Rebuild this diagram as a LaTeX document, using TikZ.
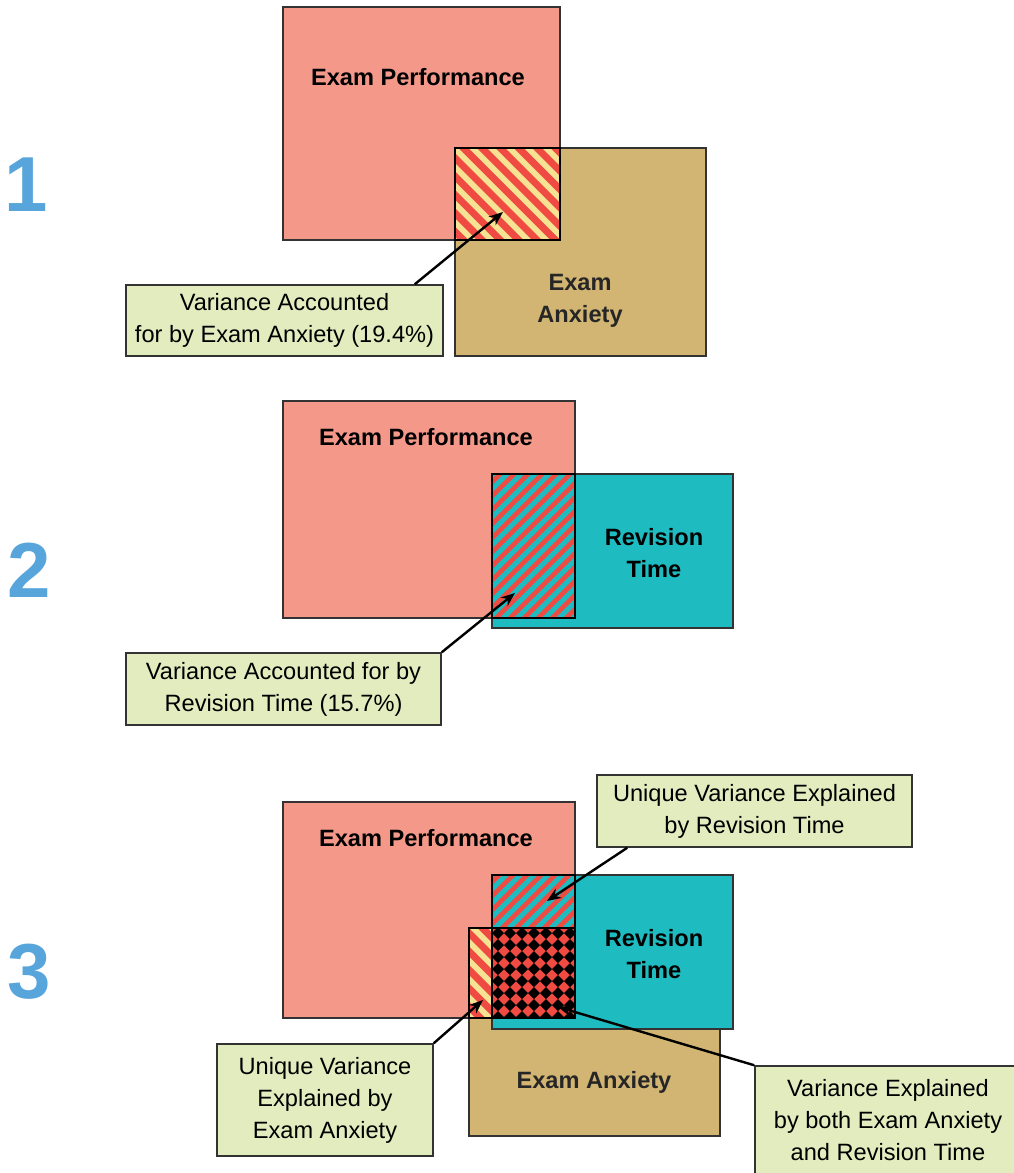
\documentclass[tikz,border=0pt]{standalone}
\usepackage{fontspec}
\setmainfont{Liberation Sans}
\usetikzlibrary{arrows.meta,calc}

\definecolor{perfcol}{HTML}{F4998A}
\definecolor{anxcol}{HTML}{D2B572}
\definecolor{revcol}{HTML}{1EBCC0}
\definecolor{notecol}{HTML}{E3ECBF}
\definecolor{stripered}{HTML}{EF4B43}
\definecolor{stripeyel}{HTML}{F5E292}
\definecolor{numblue}{HTML}{58A5DC}

\begin{document}
\begin{tikzpicture}[x=0.5pt, y=-0.5pt,
    area/.style={draw=black!80, line width=0.7pt},
    arealabel/.style={font=\fontsize{11.8}{16}\selectfont\bfseries, align=center},
    note/.style={draw=black!80, fill=notecol, line width=0.75pt, align=center,
        inner sep=0pt, font=\fontsize{11.8}{16}\selectfont},
    callout/.style={-{Stealth[length=7pt, width=5.5pt]}, line width=1.2pt},
    numlabel/.style={font=\fontsize{39}{39}\selectfont\bfseries, text=numblue, anchor=base},
    overlap/.style={draw=black, line width=1pt}]
    \useasboundingbox (0,0) rectangle (1013,1173);

    % panel numbers
    \node[numlabel] (num1) at (26,211) {1};
    \node[numlabel] (num2) at (29,597) {2};
    \node[numlabel] (num3) at (29,998) {3};

    % ---- panel 1: exam anxiety alone
    \filldraw[area, fill=perfcol] (283,7) rectangle (560,240);
    \filldraw[area, fill=anxcol] (455,148) rectangle (706,356);
    \begin{scope}
        \clip (455,148) rectangle (560,240);
        \fill[stripeyel] (455,148) rectangle (560,240);
        \foreach \d in {205,223.4,...,420}
            \draw[stripered, line width=3.5pt] (\d+140,140) -- (\d+248,248);
    \end{scope}
    \draw[overlap] (455,148) rectangle (560,240);
    \node[arealabel] (perf1) at (418,77) {Exam Performance};
    \node[arealabel, text=black!85] (anx1) at (580,301) {Exam\\Anxiety};

    \node[note, minimum width=158.5pt, minimum height=35.5pt] (note1) at (284.5,320.5)
        {Variance Accounted\\for by Exam Anxiety (19.4\%)};
    \coordinate (tip1) at (503,212);
    \draw[callout] ($(note1.north east)+(-29,0)$) -- (tip1);

    % ---- panel 2: revision time alone
    \filldraw[area, fill=perfcol] (283,401) rectangle (575,618);
    \filldraw[area, fill=revcol] (492,474) rectangle (733,628);
    \begin{scope}
        \clip (492,474) rectangle (575,618);
        \fill[revcol] (492,474) rectangle (575,618);
        \foreach \s in {960,974,...,1200}
            \draw[stripered, line width=2.3pt] (\s-466,466) -- (\s-626,626);
    \end{scope}
    \draw[overlap] (492,474) rectangle (575,618);
    \node[arealabel] (perf2) at (426,437) {Exam Performance};
    \node[arealabel] (rev2) at (654,553) {Revision\\Time};

    \node[note, minimum width=157.5pt, minimum height=36pt] (note2) at (283.5,689)
        {Variance Accounted for by\\Revision Time (15.7\%)};
    \coordinate (tip2) at (515,593);
    \draw[callout] (note2.north east) -- (tip2);

    % ---- panel 3: both predictors
    \filldraw[area, fill=anxcol] (469,927) rectangle (720,1136);
    \filldraw[area, fill=perfcol] (283,802) rectangle (575,1018);
    \filldraw[area, fill=revcol] (492,875) rectangle (733,1029);
    \begin{scope}
        \clip (492,875) rectangle (575,928);
        \fill[revcol] (492,875) rectangle (575,928);
        \foreach \s in {1360,1374,...,1510}
            \draw[stripered, line width=2.3pt] (\s-867,867) -- (\s-936,936);
    \end{scope}
    \begin{scope}
        \clip (469,928) rectangle (492,1018);
        \fill[stripeyel] (469,928) rectangle (492,1018);
        \foreach \d in {-556,-537.6,...,-425}
            \draw[stripered, line width=3.5pt] (\d+920,920) -- (\d+1026,1026);
    \end{scope}
    \begin{scope}
        \clip (492,928) rectangle (575,1018);
        \fill[stripered] (492,928) rectangle (575,1018);
        \foreach \i in {0,...,7}
            \foreach \j in {0,...,7}
                \fill[black] (492+12*\i,933+12*\j) -- ++(6,-6) -- ++(6,6) -- ++(-6,6) -- cycle;
    \end{scope}
    \draw[overlap] (492,875) rectangle (575,928);
    \draw[overlap] (469,928) rectangle (492,1018);
    \draw[overlap] (492,928) rectangle (575,1018);
    \node[arealabel] (perf3) at (426,838) {Exam Performance};
    \node[arealabel] (rev3) at (654,954) {Revision\\Time};
    \node[arealabel, text=black!85] (anx3) at (594,1082) {Exam Anxiety};

    \node[note, minimum width=157.5pt, minimum height=36pt] (note3) at (754.5,811)
        {Unique Variance Explained\\by Revision Time};
    \node[note, minimum width=108pt, minimum height=56pt] (note4) at (325,1100)
        {Unique Variance\\Explained by\\Exam Anxiety};
    \node[note, minimum width=133pt, minimum height=54pt] (note5) at (888,1120)
        {Variance Explained\\by both Exam Anxiety\\and Revision Time};
    \coordinate (tip3) at (547,901);
    \coordinate (tip4) at (483,1000);
    \coordinate (tip5) at (558,1007);
    \draw[callout] ($(note3.south west)+(31,0)$) -- (tip3);
    \draw[callout] (note4.north east) -- (tip4);
    \draw[callout] (note5.north west) -- (tip5);
\end{tikzpicture}
\end{document}
